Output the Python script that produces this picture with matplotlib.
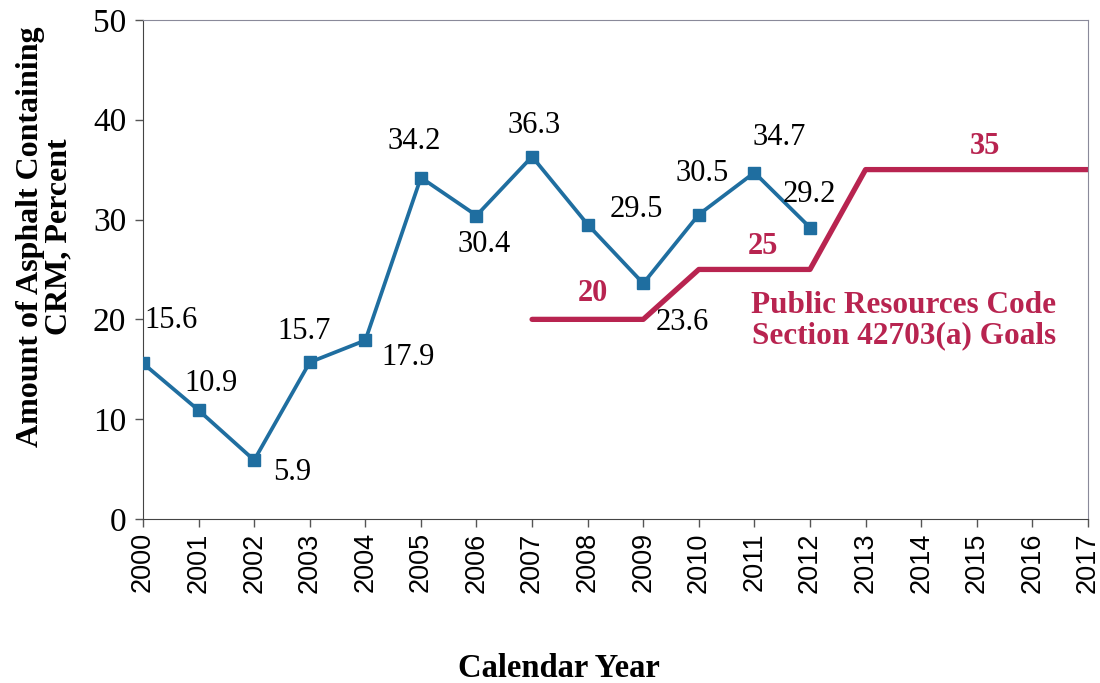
import matplotlib
matplotlib.use("Agg")
import matplotlib.pyplot as plt

# -------- Datos --------
years = [2000, 2001, 2002, 2003, 2004, 2005, 2006, 2007, 2008, 2009, 2010, 2011, 2012]
crm_pct = [15.6, 10.9, 5.9, 15.7, 17.9, 34.2, 30.4, 36.3, 29.5, 23.6, 30.5, 34.7, 29.2]

goal_years = [2007, 2009, 2010, 2012, 2013, 2017]
goal_pct = [20, 20, 25, 25, 35, 35]

goal_labels = ["20", "25", "35"]
goal_label_at = [(2008.1, 22.6), (2011.15, 27.3), (2015.15, 37.3)]

# desplazamiento de etiquetas (pixeles) respecto a cada punto
label_offsets = [(28, 43), (12, 27), (38, -12), (-6, 31), (43, -17), (-7, 36),
                 (8, -29), (2, 31), (49, 15), (39, -39), (3, 41), (25, 35), (-1, 33)]

blue = "#1f6ea0"
red = "#b82450"

fig = plt.figure(figsize=(11, 6.83), dpi=100)
ax = fig.add_axes([0.13, 0.24, 0.859, 0.731])

ax.plot(years, crm_pct, color=blue, lw=2.7, marker="s", ms=8, zorder=3)
ax.plot(goal_years, goal_pct, color=red, lw=3.8, zorder=2, solid_capstyle="round")

for x, y, off in zip(years, crm_pct, label_offsets):
    ax.annotate(f"{y}", (x, y), xytext=off, textcoords="offset pixels",
                ha="center", va="center", fontsize=22,
                family="Liberation Serif", color="black", zorder=4)

for txt, (x, y) in zip(goal_labels, goal_label_at):
    ax.text(x, y, txt, color=red, fontsize=22, fontweight="bold",
            family="Liberation Serif", ha="center", va="center")

ax.text(2013.69, 19.9, "Public Resources Code\nSection 42703(a) Goals", color=red,
        fontsize=22.5, fontweight="bold", family="Liberation Serif",
        ha="center", va="center", linespacing=1.05)

ax.set_xlim(2000, 2017)
ax.set_ylim(0, 50)
ax.set_xticks(range(2000, 2018))
ax.set_xticklabels([str(v) for v in range(2000, 2018)], rotation=90,
                   fontsize=19.5, family="Liberation Sans")
ax.set_yticks(range(0, 51, 10))
ax.set_yticklabels([str(v) for v in range(0, 51, 10)], fontsize=24,
                   family="Liberation Serif")
ax.tick_params(axis="both", direction="out", length=6, width=1, color="#555555")
ax.tick_params(axis="y", pad=6)

for s in ["top", "right"]:
    ax.spines[s].set_color("#8a8a9a")
for s in ["left", "bottom"]:
    ax.spines[s].set_color("#444444")

ax.set_ylabel("Amount of Asphalt Containing\nCRM, Percent", fontsize=23,
              fontweight="bold", family="Liberation Serif", linespacing=1.0,
              va="center")
ax.yaxis.set_label_coords(-0.104, 0.565)
ax.set_xlabel("Calendar Year", fontsize=23.5, fontweight="bold",
              family="Liberation Serif", va="center")
ax.xaxis.set_label_coords(0.44, -0.299)

fig.savefig("out.png", dpi=100)
